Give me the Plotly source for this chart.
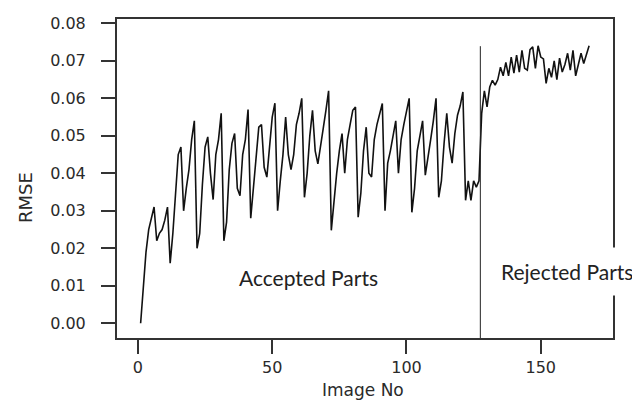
import plotly.graph_objects as go

rmse = [
    0.000, 0.011, 0.019, 0.025, 0.028, 0.031, 0.022, 0.024, 0.025, 0.0275,
    0.031, 0.016, 0.024, 0.035, 0.045, 0.047, 0.030, 0.036, 0.041, 0.049,
    0.054, 0.020, 0.024, 0.037, 0.047, 0.0497, 0.040, 0.033, 0.045, 0.049,
    0.056, 0.022, 0.027, 0.041, 0.048, 0.0506, 0.036, 0.034, 0.045, 0.049,
    0.057, 0.028, 0.036, 0.045, 0.0523, 0.053, 0.0416, 0.039, 0.048, 0.055,
    0.0587, 0.030, 0.038, 0.045, 0.055, 0.045, 0.041, 0.045, 0.053, 0.056,
    0.060, 0.0336, 0.040, 0.050, 0.0568, 0.046, 0.0425, 0.048, 0.052, 0.0568,
    0.062, 0.0248, 0.0328, 0.040, 0.046, 0.0506, 0.040, 0.049, 0.053, 0.0568,
    0.0577, 0.0283, 0.0347, 0.046, 0.0523, 0.040, 0.039, 0.049, 0.053, 0.056,
    0.0586, 0.030, 0.0427, 0.046, 0.0497, 0.054, 0.040, 0.049, 0.053, 0.0568,
    0.060, 0.0296, 0.036, 0.046, 0.050, 0.054, 0.0395, 0.045, 0.049, 0.054,
    0.060, 0.0336, 0.038, 0.048, 0.056, 0.047, 0.0427, 0.0506, 0.0555, 0.058,
    0.0617, 0.0328, 0.038, 0.0328, 0.038, 0.0363, 0.038, 0.056, 0.062, 0.0577,
    0.063, 0.0648, 0.0635, 0.065, 0.0683, 0.066, 0.0696, 0.066, 0.071, 0.0667,
    0.0715, 0.067, 0.0728, 0.068, 0.0675, 0.073, 0.0737, 0.068, 0.074, 0.071,
    0.0705, 0.064, 0.068, 0.0656, 0.070, 0.065, 0.0707, 0.067, 0.069, 0.072,
    0.0675, 0.0728, 0.066, 0.069, 0.072, 0.0693, 0.072, 0.074,
]
image_no = list(range(1, len(rmse) + 1))

y_ticks = [0.00, 0.01, 0.02, 0.03, 0.04, 0.05, 0.06, 0.07, 0.08]
x_ticks = [0, 50, 100, 150]
split_at = 127.5
split_top = 0.0739

Y_MIN, Y_MAX = -0.00392, 0.08115

fig = go.Figure()
fig.add_trace(go.Scatter(
    x=image_no, y=rmse, mode="lines",
    line=dict(color="#111111", width=1.6),
    showlegend=False, hoverinfo="skip",
))

axis_font = dict(family="DejaVu Sans", size=16, color="#2a2a2a")

fig.update_layout(
    width=632, height=396,
    margin=dict(l=109, r=27, t=11, b=66),
    paper_bgcolor="white", plot_bgcolor="white",
    xaxis=dict(
        range=[-7.8, 176.9], tickvals=x_ticks, ticks="outside", ticklen=14,
        tickwidth=2, tickcolor="#333333", showline=True, mirror=True,
        linecolor="#333333", linewidth=2, showgrid=False, zeroline=False,
        tickfont=axis_font, automargin=False,
    ),
    yaxis=dict(
        range=[Y_MIN, Y_MAX], tickvals=y_ticks, tickformat=".2f",
        ticks="outside", ticklen=14, tickwidth=2, tickcolor="#333333",
        showline=True, mirror=True, linecolor="#333333", linewidth=2,
        showgrid=False, zeroline=False, tickfont=axis_font,
        ticklabelstandoff=12, automargin=False,
    ),
)

fig.add_shape(type="line", xref="x", yref="paper", x0=split_at, x1=split_at,
              y0=0, y1=(split_top - Y_MIN) / (Y_MAX - Y_MIN),
              line=dict(color="#222222", width=1))

fig.add_annotation(text="Image No", xref="paper", yref="paper",
                   x=0.496, y=-0.163, showarrow=False,
                   xanchor="center", yanchor="middle",
                   font=dict(family="DejaVu Sans", size=17, color="#2a2a2a"))
fig.add_annotation(text="RMSE", xref="paper", yref="paper",
                   x=-0.1855, y=0.442, showarrow=False, textangle=-90,
                   xanchor="center", yanchor="middle",
                   font=dict(family="DejaVu Sans", size=18, color="#2a2a2a"))
fig.add_annotation(text="Accepted Parts", xref="x", yref="y",
                   x=63.5, y=0.0121, showarrow=False,
                   xanchor="center", yanchor="middle",
                   font=dict(family="Lato", size=21, color="#222222"))
fig.add_annotation(text="Rejected Parts", xref="x", yref="y",
                   x=159.6, y=0.0137, showarrow=False,
                   xanchor="center", yanchor="middle",
                   bgcolor="white", borderpad=11,
                   font=dict(family="Lato", size=21, color="#222222"))

fig.write_html("out.html")
